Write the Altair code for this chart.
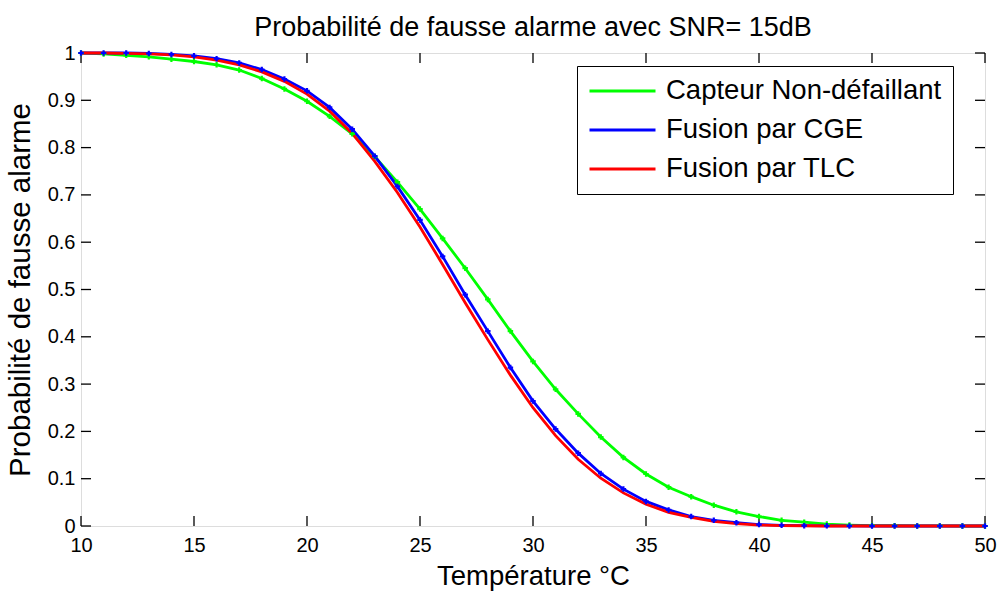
import altair as alt
import pandas as pd

temperature = list(range(10, 51))
capteur = [1.0, 0.998, 0.995, 0.992, 0.987, 0.982, 0.975, 0.964, 0.946, 0.924,
           0.898, 0.866, 0.829, 0.781, 0.727, 0.670, 0.608, 0.545, 0.479, 0.412,
           0.348, 0.289, 0.237, 0.188, 0.145, 0.110, 0.082, 0.062, 0.044, 0.030,
           0.020, 0.012, 0.008, 0.004, 0.002, 0.001, 0.0005, 0.0002, 0.0001, 0.0, 0.0]
cge = [1.0, 1.0, 1.0, 0.999, 0.997, 0.994, 0.988, 0.979, 0.965, 0.945,
       0.920, 0.885, 0.839, 0.782, 0.718, 0.647, 0.570, 0.489, 0.412, 0.335,
       0.264, 0.205, 0.154, 0.111, 0.078, 0.052, 0.034, 0.020, 0.012, 0.007,
       0.003, 0.0015, 0.0007, 0.0003, 0.0001, 0.0, 0.0, 0.0, 0.0, 0.0, 0.0]
tlc = [1.0, 1.0, 0.999, 0.998, 0.996, 0.992, 0.985, 0.975, 0.960, 0.940,
       0.913, 0.877, 0.830, 0.771, 0.705, 0.632, 0.553, 0.472, 0.394, 0.319,
       0.250, 0.191, 0.141, 0.101, 0.070, 0.046, 0.029, 0.018, 0.010, 0.005,
       0.002, 0.001, 0.0005, 0.0, 0.0, 0.0, 0.0, 0.0, 0.0, 0.0, 0.0]

series_names = ["Capteur Non-défaillant", "Fusion par CGE", "Fusion par TLC"]
series_colors = ["#00ff00", "#0000ff", "#ff0000"]
x_ticks = [10, 15, 20, 25, 30, 35, 40, 45, 50]
y_ticks = [0, 0.1, 0.2, 0.3, 0.4, 0.5, 0.6, 0.7, 0.8, 0.9, 1]

rows = []
for name, vals in zip(series_names, [capteur, cge, tlc]):
    for t, v in zip(temperature, vals):
        rows.append({"T": t, "P": v, "serie": name})
df = pd.DataFrame(rows)
marker_df = df[df["serie"] != "Fusion par TLC"]
xt_df = pd.DataFrame({"T": x_ticks})
yt_df = pd.DataFrame({"P": y_ticks})

W, H = 904, 473
FONT = "Liberation Sans"
TICK = 10

x_scale = alt.Scale(domain=[10, 50], nice=False, zero=False)
y_scale = alt.Scale(domain=[0, 1], nice=False, zero=False)
color_scale = alt.Scale(domain=series_names, range=series_colors)

x_axis = alt.Axis(title="Température °C", values=x_ticks, ticks=False, domain=False,
                  grid=False, labelPadding=9, titlePadding=7, labelFontSize=20,
                  titleFontSize=27.5, titleFontWeight="normal", labelFlush=False,
                  labelFont=FONT, titleFont=FONT)
y_axis = alt.Axis(title="Probabilité de fausse alarme", values=y_ticks, ticks=False,
                  domain=False, grid=False, labelPadding=6, titlePadding=12,
                  labelFontSize=20, titleFontSize=29.5, titleFontWeight="normal",
                  labelFlush=False, labelExpr="datum.value + ''",
                  labelFont=FONT, titleFont=FONT)

lines = alt.Chart(df).mark_line(strokeWidth=2.8, clip=False).encode(
    x=alt.X("T:Q", scale=x_scale, axis=x_axis),
    y=alt.Y("P:Q", scale=y_scale, axis=y_axis),
    color=alt.Color("serie:N", scale=color_scale, sort=series_names,
                    legend=alt.Legend(title=None, orient="none", legendX=496, legendY=13,
                                      symbolType="stroke", symbolSize=4356,
                                      symbolStrokeWidth=3, clipHeight=28, rowPadding=11,
                                      labelFontSize=27.5, labelFont=FONT, labelOffset=9,
                                      padding=11, strokeColor="black", fillColor="white",
                                      labelLimit=500)),
)

markers = alt.Chart(marker_df).mark_point(shape="cross", filled=True, size=30,
                                          opacity=1, clip=False).encode(
    x=alt.X("T:Q", scale=x_scale),
    y=alt.Y("P:Q", scale=y_scale),
    color=alt.Color("serie:N", scale=color_scale, legend=None),
)

tick_style = dict(color="black", strokeWidth=1.3)
xb = alt.Chart(xt_df).mark_rule(**tick_style).encode(
    x=alt.X("T:Q", scale=x_scale), y=alt.value(H), y2=alt.value(H - TICK))
xtp = alt.Chart(xt_df).mark_rule(**tick_style).encode(
    x=alt.X("T:Q", scale=x_scale), y=alt.value(0), y2=alt.value(TICK))
yl = alt.Chart(yt_df).mark_rule(**tick_style).encode(
    y=alt.Y("P:Q", scale=y_scale), x=alt.value(0), x2=alt.value(TICK))
yr = alt.Chart(yt_df).mark_rule(**tick_style).encode(
    y=alt.Y("P:Q", scale=y_scale), x=alt.value(W), x2=alt.value(W - TICK))

chart = alt.layer(xb, xtp, yl, yr, lines, markers).properties(
    width=W, height=H,
    title=alt.TitleParams("Probabilité de fausse alarme avec SNR= 15dB", fontSize=27,
                          font=FONT, fontWeight="normal", anchor="middle",
                          offset=1, color="black"),
    autosize=alt.AutoSizeParams(type="none"),
    padding={"left": 81, "top": 53, "right": 13, "bottom": 68},
).configure_view(
    stroke="black", strokeWidth=2
).configure_legend(
    strokeWidth=1.5, cornerRadius=0
).configure(background="white")

chart.save("out.html", embed_options={"renderer": "svg", "actions": False})
